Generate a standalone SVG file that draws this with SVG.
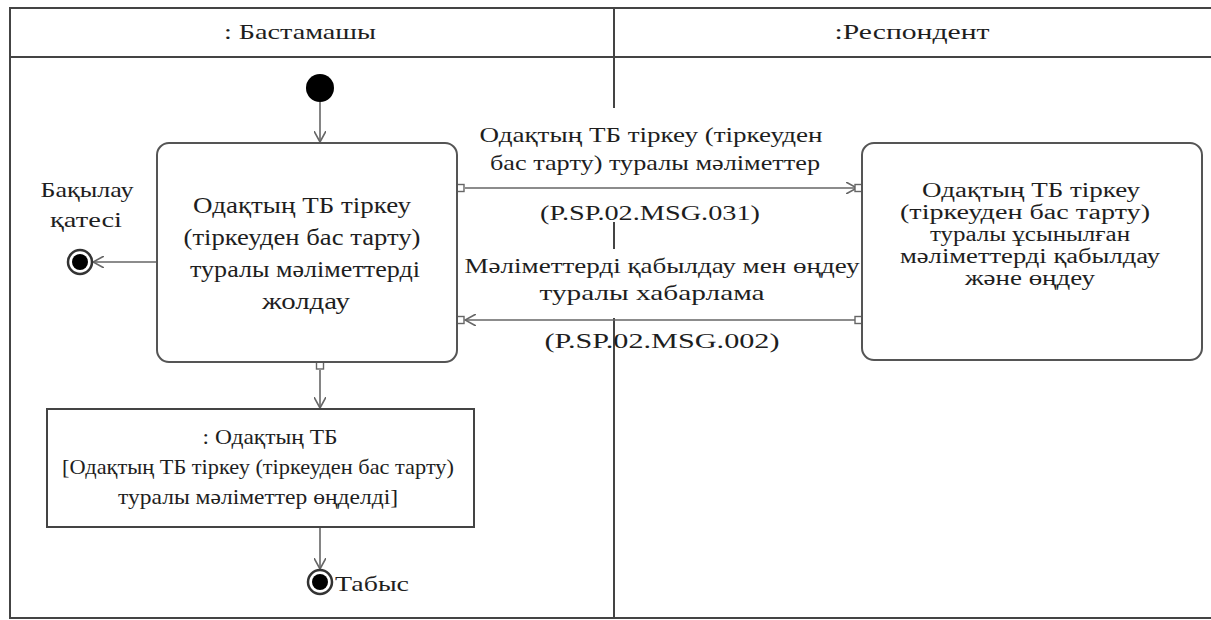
<svg xmlns="http://www.w3.org/2000/svg" width="1211" height="620" viewBox="0 0 1211 620">
<style>
text{font-family:"Liberation Serif","Tinos","Times New Roman","DejaVu Serif","Noto Serif",serif;fill:#1e1e1e;text-anchor:middle}
.frame{fill:none;stroke:#444;stroke-width:2}
.lane{stroke:#444;stroke-width:2}
.box{fill:#fff;stroke:#555;stroke-width:2}
.edge{fill:none;stroke:#666;stroke-width:1.6}
.pin{fill:#fff;stroke:#666;stroke-width:1.4}
.h{font-size:21px}
.lb{font-size:22px}
.a1{font-size:23px}
.a2{font-size:20px}
.ob{font-size:22px}
</style>
<defs>
<marker id="open" viewBox="0 0 12 12" refX="11" refY="6" markerWidth="12" markerHeight="12" markerUnits="userSpaceOnUse" orient="auto">
<path d="M0,0 L11,6 L0,12" fill="none" stroke="#666" stroke-width="1.6"/>
</marker>
</defs>
<rect width="1211" height="620" fill="#fff"/>
<g id="frame">
<path class="frame" d="M1211,8 H10 V618 H1211"/>
<line class="lane" x1="10" y1="57" x2="1211" y2="57"/>
<line class="lane" x1="614" y1="8" x2="614" y2="108"/>
<line class="lane" x1="614" y1="222" x2="614" y2="249"/>
<line class="lane" x1="614" y1="318" x2="614" y2="618"/>
<text class="h" x="300" y="39" textLength="152" lengthAdjust="spacingAndGlyphs">: Бастамашы</text>
<text class="h" x="912" y="39" textLength="155" lengthAdjust="spacingAndGlyphs">:Респондент</text>
</g>
<g id="connectors">
<line class="edge" x1="320" y1="102" x2="320" y2="142" marker-end="url(#open)"/>
<line class="edge" x1="157" y1="262" x2="93" y2="262" marker-end="url(#open)"/>
<line class="edge" x1="465" y1="188" x2="857" y2="188" marker-end="url(#open)"/>
<line class="edge" x1="857" y1="320" x2="465" y2="320" marker-end="url(#open)"/>
<line class="edge" x1="320" y1="370" x2="320" y2="408" marker-end="url(#open)"/>
<line class="edge" x1="320" y1="527" x2="320" y2="569" marker-end="url(#open)"/>
<rect class="pin" x="457" y="184.5" width="7" height="7"/>
<rect class="pin" x="855" y="184.5" width="7" height="7"/>
<rect class="pin" x="855" y="316.5" width="7" height="7"/>
<rect class="pin" x="457" y="316.5" width="7" height="7"/>
<rect class="pin" x="316.5" y="362" width="7" height="7"/>
<text class="lb" x="651" y="142" textLength="343" lengthAdjust="spacingAndGlyphs">Одақтың ТБ тіркеу (тіркеуден</text>
<text class="lb" x="655" y="170" textLength="330" lengthAdjust="spacingAndGlyphs">бас тарту) туралы мәліметтер</text>
<text class="lb" x="650" y="220" textLength="220" lengthAdjust="spacingAndGlyphs">(P.SP.02.MSG.031)</text>
<text class="lb" x="662" y="273" textLength="395" lengthAdjust="spacingAndGlyphs">Мәліметтерді қабылдау мен өңдеу</text>
<text class="lb" x="652" y="300" textLength="225" lengthAdjust="spacingAndGlyphs">туралы хабарлама</text>
<text class="lb" x="662" y="348" textLength="235" lengthAdjust="spacingAndGlyphs">(P.SP.02.MSG.002)</text>
</g>
<g id="start">
<circle cx="320" cy="88" r="14" fill="#000"/>
</g>
<g id="send-action">
<rect class="box" x="157" y="143" width="300" height="219" rx="12"/>
<text class="a1" x="302" y="213" textLength="218" lengthAdjust="spacingAndGlyphs">Одақтың ТБ тіркеу</text>
<text class="a1" x="302" y="245" textLength="237" lengthAdjust="spacingAndGlyphs">(тіркеуден бас тарту)</text>
<text class="a1" x="305" y="277" textLength="230" lengthAdjust="spacingAndGlyphs">туралы мәліметтерді</text>
<text class="a1" x="306" y="309" textLength="88" lengthAdjust="spacingAndGlyphs">жолдау</text>
</g>
<g id="receive-action">
<rect class="box" x="862" y="143" width="340" height="217" rx="12"/>
<text class="a2" x="1031" y="197" textLength="218" lengthAdjust="spacingAndGlyphs">Одақтың ТБ тіркеу</text>
<text class="a2" x="1025" y="219" textLength="250" lengthAdjust="spacingAndGlyphs">(тіркеуден бас тарту)</text>
<text class="a2" x="1030" y="241" textLength="200" lengthAdjust="spacingAndGlyphs">туралы ұсынылған</text>
<text class="a2" x="1030" y="263" textLength="260" lengthAdjust="spacingAndGlyphs">мәліметтерді қабылдау</text>
<text class="a2" x="1030" y="285" textLength="130" lengthAdjust="spacingAndGlyphs">және өңдеу</text>
</g>
<g id="error-final">
<circle cx="80" cy="262" r="12" fill="#fff" stroke="#333" stroke-width="2.5"/>
<circle cx="80" cy="262" r="8" fill="#000"/>
<text class="lb" x="87" y="197" textLength="93" lengthAdjust="spacingAndGlyphs">Бақылау</text>
<text class="lb" x="86" y="227" textLength="72" lengthAdjust="spacingAndGlyphs">қатесі</text>
</g>
<g id="object-node">
<rect x="47" y="409" width="427" height="118" fill="#fff" stroke="#444" stroke-width="2"/>
<text class="ob" x="270" y="444" textLength="135" lengthAdjust="spacingAndGlyphs">: Одақтың ТБ</text>
<text class="ob" x="258" y="474" textLength="392" lengthAdjust="spacingAndGlyphs">[Одақтың ТБ тіркеу (тіркеуден бас тарту)</text>
<text class="ob" x="258" y="504" textLength="280" lengthAdjust="spacingAndGlyphs">туралы мәліметтер өңделді]</text>
</g>
<g id="success-final">
<circle cx="320" cy="582" r="12" fill="#fff" stroke="#333" stroke-width="2.5"/>
<circle cx="320" cy="582" r="8" fill="#000"/>
<text class="lb" x="335" y="591" style="text-anchor:start" textLength="74" lengthAdjust="spacingAndGlyphs">Табыс</text>
</g>
</svg>
